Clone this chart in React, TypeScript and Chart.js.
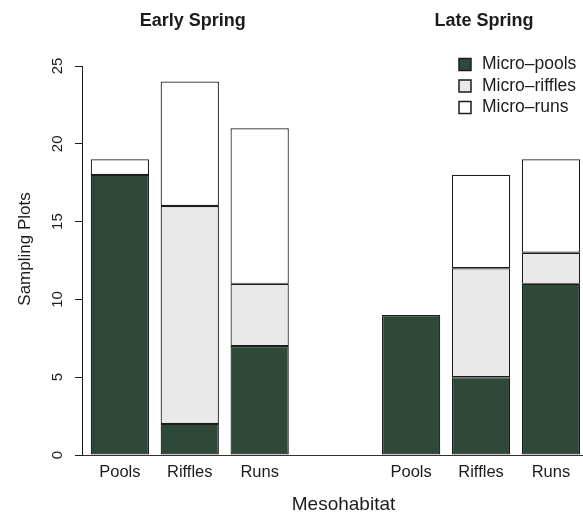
import { useEffect, useRef } from "react";
import { Chart, registerables } from "chart.js";

Chart.register(...registerables);

// Sampling plots per mesohabitat, split by micro-habitat type
const seasons = ["Early Spring", "Late Spring"];
const mesohabitats = ["Pools", "Riffles", "Runs"];
const microPools = [18, 2, 7, 9, 5, 11];
const microRiffles = [0, 14, 4, 0, 7, 2];
const microRuns = [1, 8, 10, 0, 6, 6];
const yTickValues = [0, 5, 10, 15, 20, 25];

const seriesLabels = ["Micro\u2013pools", "Micro\u2013riffles", "Micro\u2013runs"];
const seriesColors = ["#2e4839", "#e9e9e9", "#ffffff"];

// barplot-style placement: unit-width bars, 0.2 spacing, wider gap between seasons
const BAR_SPACE = 0.2;
const GROUP_SHIFT = 5.0;
const barPositions: number[] = [];
seasons.forEach((_, g) => {
  mesohabitats.forEach((_, i) => {
    barPositions.push(BAR_SPACE + 0.5 + i * (1 + BAR_SPACE) + g * GROUP_SHIFT);
  });
});

const FONT = "'Liberation Sans', Arial, Helvetica, sans-serif";
const INK = "#1c1c1c";

const annotations = {
  id: "habitatAnnotations",
  afterDraw(chart: Chart) {
    const { ctx, chartArea, scales } = chart;
    const xs = scales.x;
    const ys = scales.y;
    ctx.save();
    ctx.fillStyle = INK;
    ctx.textAlign = "center";
    ctx.textBaseline = "middle";

    // season headings over each group
    ctx.font = `bold 18px ${FONT}`;
    seasons.forEach((s, g) => {
      const idx = barPositions.slice(g * 3, g * 3 + 3);
      const cx = idx.reduce((a, p) => a + xs.getPixelForValue(p), 0) / idx.length;
      ctx.fillText(s, cx + 3, 21);
    });

    // category labels under bars
    ctx.font = `16.5px ${FONT}`;
    barPositions.forEach((p, i) => {
      ctx.fillText(mesohabitats[i % mesohabitats.length], xs.getPixelForValue(p), 472);
    });

    // x-axis title
    ctx.font = `19px ${FONT}`;
    ctx.fillText("Mesohabitat", (chartArea.left + chartArea.right) / 2 + 11, 505);

    // y tick labels, rotated
    ctx.font = `15px ${FONT}`;
    yTickValues.forEach((v) => {
      const py = ys.getPixelForValue(v);
      ctx.save();
      ctx.translate(chartArea.left - 24, py);
      ctx.rotate(-Math.PI / 2);
      ctx.fillText(String(v), 0, 0);
      ctx.restore();
    });

    // y-axis title
    ctx.save();
    ctx.font = `17px ${FONT}`;
    ctx.translate(25, 249);
    ctx.rotate(-Math.PI / 2);
    ctx.fillText("Sampling Plots", 0, 0);
    ctx.restore();

    // legend in the upper right
    ctx.textAlign = "left";
    ctx.font = `17.5px ${FONT}`;
    chart.data.datasets.forEach((ds, i) => {
      const cy = 64.5 + i * 21.5;
      ctx.fillStyle = ds.backgroundColor as string;
      ctx.fillRect(459, cy - 6, 12, 12);
      ctx.strokeStyle = INK;
      ctx.lineWidth = 1.5;
      ctx.strokeRect(459, cy - 6, 12, 12);
      ctx.fillStyle = INK;
      ctx.fillText(ds.label as string, 482, cy);
    });

    ctx.restore();
  },
};

export default function App() {
  const canvasRef = useRef<HTMLCanvasElement | null>(null);

  useEffect(() => {
    if (!canvasRef.current) return;
    const series = [microPools, microRiffles, microRuns];
    const chart = new Chart(canvasRef.current, {
      type: "bar",
      data: {
        datasets: series.map((vals, s) => ({
          label: seriesLabels[s],
          data: vals.map((v, i) => ({ x: barPositions[i], y: v })),
          backgroundColor: seriesColors[s],
          borderColor: INK,
          // empty segments get no outline
          borderWidth: (c: any) => (c.raw && c.raw.y === 0 ? 0 : 1.2),
          borderSkipped: false,
          categoryPercentage: 1,
          barPercentage: 1 / (1 + BAR_SPACE),
        })),
      },
      options: {
        animation: false,
        responsive: true,
        maintainAspectRatio: false,
        layout: { padding: { left: 75, top: 66, right: 0, bottom: 62 } },
        plugins: {
          legend: { display: false },
          tooltip: { enabled: false },
          title: { display: false },
        },
        scales: {
          x: {
            type: "linear",
            stacked: true,
            offset: false,
            min: 0.05,
            max: 8.65,
            afterBuildTicks: (scale: any) => {
              scale.ticks = barPositions.map((v) => ({ value: v }));
            },
            grid: { display: false, drawTicks: false, offset: false },
            ticks: { display: false },
            border: { display: true, color: "#333", width: 1 },
          },
          y: {
            stacked: true,
            min: 0,
            max: 25,
            afterBuildTicks: (scale: any) => {
              scale.ticks = yTickValues.map((v) => ({ value: v }));
            },
            grid: {
              drawOnChartArea: false,
              drawTicks: true,
              tickLength: 7,
              color: INK,
            },
            ticks: { display: false },
            border: { display: true, color: INK, width: 1 },
          },
        },
      },
      plugins: [annotations],
    });
    return () => chart.destroy();
  }, []);

  return (
    <div style={{ position: "fixed", left: 0, top: 0, width: 583, height: 517, background: "#fff" }}>
      <canvas ref={canvasRef} />
    </div>
  );
}
